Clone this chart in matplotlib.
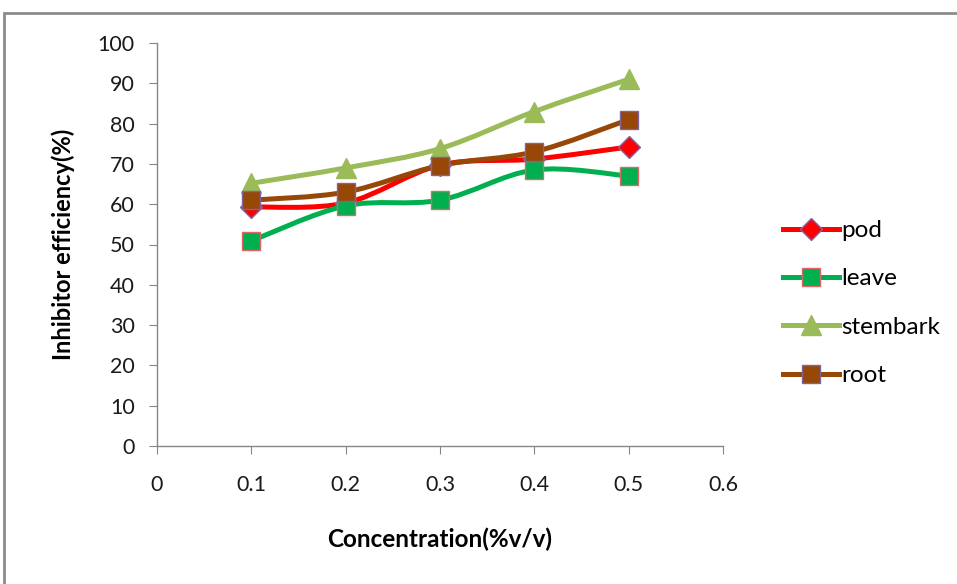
import matplotlib
matplotlib.use("Agg")
import matplotlib.pyplot as plt
from matplotlib.path import Path
from matplotlib.patches import PathPatch, Rectangle
from matplotlib.lines import Line2D
import numpy as np

plt.rcParams['font.family'] = ['Lato', 'DejaVu Sans']

conc = [0.1, 0.2, 0.3, 0.4, 0.5]
pod = [59.3, 60.3, 69.7, 71.2, 74.2]
leave = [50.9, 59.6, 61.0, 68.5, 67.0]
stembark = [65.2, 69.0, 73.8, 83.0, 91.0]
root = [61.0, 63.0, 69.6, 73.0, 81.0]

xticks = [0, 0.1, 0.2, 0.3, 0.4, 0.5, 0.6]
xticklabels = ["0", "0.1", "0.2", "0.3", "0.4", "0.5", "0.6"]
yticks = list(range(0, 101, 10))

series = [
    ("pod", pod, "#FF0000", "D", 11, "#7B68AE"),
    ("leave", leave, "#00B050", "s", 13.5, "#E06666"),
    ("stembark", stembark, "#9BBB59", "^", 15, "#9BBB59"),
    ("root", root, "#974706", "s", 13.5, "#8064A2"),
]

fig = plt.figure(figsize=(9.57, 5.84), dpi=100)
ax = fig.add_axes([157/957, 1-446/584, (723-157)/957, (446-43)/584])


def smooth_path(x, y, t=1/6):
    x = np.asarray(x, float); y = np.asarray(y, float)
    n = len(x)
    verts = [(x[0], y[0])]
    codes = [Path.MOVETO]
    for i in range(n-1):
        p0 = (x[i-1], y[i-1]) if i > 0 else (x[i], y[i])
        p1 = (x[i], y[i]); p2 = (x[i+1], y[i+1])
        p3 = (x[i+2], y[i+2]) if i+2 < n else (x[i+1], y[i+1])
        c1 = (p1[0] + (p2[0]-p0[0])*t, p1[1] + (p2[1]-p0[1])*t)
        c2 = (p2[0] - (p3[0]-p1[0])*t, p2[1] - (p3[1]-p1[1])*t)
        verts += [c1, c2, p2]
        codes += [Path.CURVE4]*3
    return Path(verts, codes)


LW = 3.6
handles = []
for name, vals, col, mk, ms, ec in series:
    patch = PathPatch(smooth_path(conc, vals), facecolor='none', edgecolor=col,
                      lw=LW, zorder=2, capstyle='round', joinstyle='round')
    ax.add_patch(patch)
    ax.plot(conc, vals, linestyle='none', marker=mk, markersize=ms,
            markerfacecolor=col, markeredgecolor=ec, markeredgewidth=1.0, zorder=3)
    handles.append(Line2D([], [], color=col, lw=LW, marker=mk, markersize=ms,
                          markerfacecolor=col, markeredgecolor=ec, markeredgewidth=1.0,
                          label=name))

ax.set_xlim(0, 0.6)
ax.set_ylim(0, 100)
ax.set_xticks(xticks)
ax.set_xticklabels(xticklabels)
ax.set_yticks(yticks)
for s in ['top', 'right']:
    ax.spines[s].set_visible(False)
for s in ['left', 'bottom']:
    ax.spines[s].set_color('#868686')
    ax.spines[s].set_linewidth(1.0)
ax.tick_params(axis='both', direction='out', length=6, color='#868686',
               labelsize=15.5, labelcolor='#1a1a1a')
ax.tick_params(axis='x', pad=15)
ax.tick_params(axis='y', pad=10)

ax.set_xlabel("Concentration(%v/v)", fontsize=17.5, fontweight='bold')
ax.set_ylabel("Inhibitor efficiency(%)", fontsize=17, fontweight='bold')
ax.xaxis.set_label_coords(0.5, (446-528)/403)
ax.yaxis.set_label_coords((75-157)/566, 0.5)

fig.legend(handles=handles, loc='upper left', bbox_to_anchor=(783/957, 1-220/584),
           frameon=False, fontsize=17.5, handlelength=2.3, labelspacing=1.13,
           handletextpad=0.1, borderaxespad=0, borderpad=0)

fig.patches.append(Rectangle((4/957, -0.1), 1.2, 1-13/584+0.1, transform=fig.transFigure,
                             fill=False, edgecolor='#8C8C8C', lw=2.0))

fig.savefig("out.png", dpi=100)
